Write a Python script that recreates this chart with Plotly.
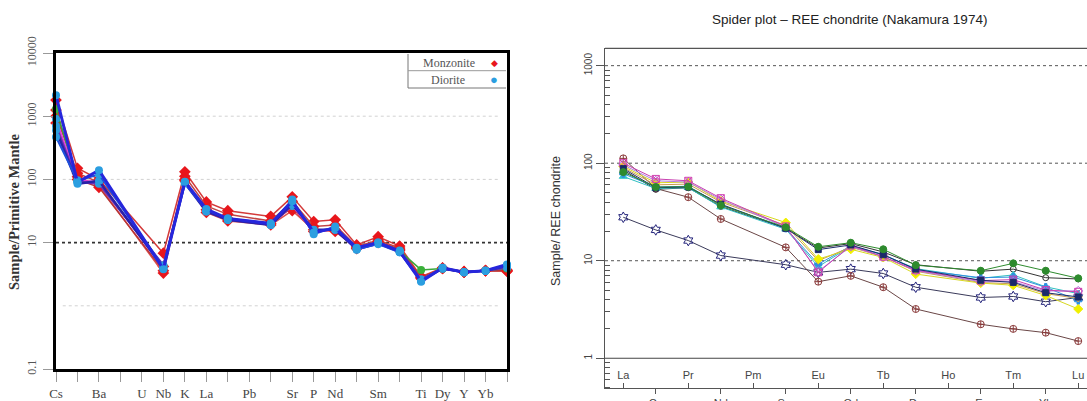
import plotly.graph_objects as go

W, H = 1087, 401
N = None

# ---------------- Left panel: primitive-mantle normalised spider diagram
PM_ELEMENTS = ["Cs", "Rb", "Ba", "Th", "U", "Nb", "K", "La", "Ce", "Pb", "Pr",
               "Sr", "P", "Nd", "Zr", "Sm", "Eu", "Ti", "Dy", "Y", "Yb", "Lu"]
PM_TICK_LABELS = ["Cs", "", "Ba", "", "U", "Nb", "K", "La", "", "Pb", "",
                  "Sr", "P", "Nd", "", "Sm", "", "Ti", "Dy", "Y", "Yb", ""]

MONZ_1 = [1800, 150, 100, N, N, 6.8, 132, 44, 32, N, 26, 53, 21.5, 23, 9.2, 12.4, 8.8, 2.9, 4.0, 3.5, 3.6, 3.6]
MONZ_2 = [1000, 125, 90, N, N, 4.2, 112, 38, 28, N, 22, 45, 18, 19, 8.6, 11.0, 8.2, 2.7, 3.9, 3.4, 3.6, 3.5]
MONZ_3 = [780, 110, 80, N, N, 3.3, 100, 30, 22, N, 19, 32, 16, 15, 8.2, 10.0, 7.5, 2.8, 3.9, 3.4, 3.6, 3.6]
MONZ_4 = [1250, 100, 75, N, N, 3.6, 95, 33, 24, N, 20, 36, 15, 16, 8.0, 10.5, 7.8, 2.8, 3.9, 3.4, 3.6, 3.7]

DIOR_1 = [2150, 90, 140, N, N, 3.8, 92, 34, 24, N, 20, 45, 14.5, 17, 8.3, 10.0, 7.3, 2.4, 4.0, 3.4, 3.6, 4.5]
DIOR_2 = [600, 85, 95, N, N, 4.0, 88, 31, 23, N, 19, 40, 16, 16, 7.9, 9.7, 7.2, 2.5, 3.9, 3.4, 3.6, 4.3]
DIOR_3 = [700, 92, 85, N, N, 4.4, 90, 32, 23, N, 20, 42, 15, 16.5, 8.0, 10.0, 7.5, 2.6, 3.9, 3.4, 3.6, 4.0]
DIOR_4 = [470, 95, 120, N, N, 4.1, 86, 33, 24, N, 20, 48, 13.5, 18, 7.8, 9.5, 7.0, 2.5, 4.0, 3.4, 3.6, 4.4]
DIOR_5 = [900, 97, 92, N, N, 3.9, 90, 31, 23, N, 19, 38, 15, 16, 7.7, 9.6, 7.1, 2.6, 3.9, 3.4, 3.6, 4.2]
DIOR_6 = [1300, 95, 90, N, N, 4.3, 89, 32, 23, N, 19.5, 41, 15.5, 16.5, 8.1, 9.9, 7.4, 3.7, 3.9, 3.4, 3.6, 3.9]

PM_TICKS = [0.1, 10, 100, 1000, 10000]
PM_TICK_TEXT = ["0.1", "10", "100", "1000", "10000"]

# ---------------- Right panel: REE chondrite normalised
REE = ["La", "Ce", "Pr", "Nd", "Pm", "Sm", "Eu", "Gd", "Tb", "Dy", "Ho", "Er", "Tm", "Yb", "Lu"]

REE_STAR = [27.9, 20.7, 16.1, 11.3, N, 9.1, 7.6, 8.2, 7.4, 5.35, N, 4.2, 4.3, 3.8, 4.2]
REE_BROWN = [112, 55, 44.8, 26.8, N, 13.7, 6.1, 7.0, 5.35, 3.2, N, 2.23, 2.0, 1.83, 1.5]
REE_GREEN = [81, 57, 57.5, 37, N, 22, 13.9, 15.3, 13.1, 9.0, N, 7.9, 9.4, 7.9, 6.6]
REE_GREY = [85, 54, 56, 36, N, 21.5, 13.5, 15, 12.3, 9.1, N, 7.8, 8.2, 6.7, 6.5]
REE_CYAN = [73, 55, 56, 35.5, N, 21, 8.7, 14, 11.5, 8.3, N, 6.6, 7.15, 5.4, 4.6]
REE_PINK = [100, 69, 66, 43.8, N, 22.5, 7.6, 14.3, 11, 8.0, N, 6.25, 6.4, 5.0, 4.8]
REE_VIOLET = [96, 66, 64, 42.5, N, 22, 7.8, 14, 11, 7.9, N, 6.1, 6.1, 4.9, 4.9]
REE_YELLOW = [93, 63, 64, 41, N, 24.6, 10.4, 13.1, 10.8, 7.3, N, 5.9, 5.6, 4.4, 3.2]
REE_ORANGE = [90, 60, 61, 40, N, 23, 10, 13.8, 11, 7.8, N, 5.97, 5.8, 4.6, 4.1]
REE_NAVY = [88, 56, 57, 38, N, 21.5, 13.0, 14.5, 11.5, 8.2, N, 6.3, 6.0, 4.7, 4.25]
REE_BLUE = [78, 57, 58, 37.5, N, 21.5, 9.2, 14.2, 11.6, 8.1, N, 6.7, 6.8, 5.35, 3.9]

REE_TICKS = [1, 10, 100, 1000]
REE_MINOR = [0.5, 0.6, 0.7, 0.8, 0.9, 2, 3, 4, 5, 6, 7, 8, 9,
             20, 30, 40, 50, 60, 70, 80, 90, 200, 300, 400, 500, 600, 700, 800, 900]

SERIF = "Liberation Serif, Times New Roman, serif"
SANS = "Liberation Sans, Arial, sans-serif"


def px(x):
    return x / W


def py(y):
    return (H - y) / H


fig = go.Figure()

pm_x = list(range(len(PM_ELEMENTS)))

monz_styles = [
    (MONZ_1, "#d43a3a", 1.5),
    (MONZ_2, "#c24545", 1.5),
    (MONZ_3, "#dd4f4f", 1.5),
    (MONZ_4, "#b83535", 1.5),
]
dior_styles = [
    (DIOR_6, "#3aa83a", 1.5, "#3ab03a"),
    (DIOR_5, "#e040e0", 1.6, "#2b9ee0"),
    (DIOR_3, "#6a30b8", 2.2, "#2b9ee0"),
    (DIOR_2, "#2a22a8", 2.5, "#2b9ee0"),
    (DIOR_4, "#1e50dc", 2.0, "#2b9ee0"),
    (DIOR_1, "#2626dc", 3.0, "#2b9ee0"),
]

for vals, col, w in monz_styles:
    fig.add_trace(go.Scatter(
        x=pm_x, y=vals, mode="lines+markers", connectgaps=True, cliponaxis=False,
        line=dict(color=col, width=w),
        marker=dict(symbol="diamond", size=9, color="#e8161c"),
        xaxis="x", yaxis="y", showlegend=False))

for vals, col, w, mcol in dior_styles:
    fig.add_trace(go.Scatter(
        x=pm_x, y=vals, mode="lines+markers", connectgaps=True, cliponaxis=False,
        line=dict(color=col, width=w),
        marker=dict(symbol="circle", size=8, color=mcol),
        xaxis="x", yaxis="y", showlegend=False))

ree_x = list(range(len(REE)))
ree_styles = [
    (REE_STAR, "#3a3a5a", "hexagram-open", "#23237a", 8),
    (REE_BROWN, "#6a4646", "circle-cross-open", "#8a3a3a", 7),
    (REE_GREY, "#333333", "circle-open", "#333333", 6),
    (REE_CYAN, "#30c0c0", "triangle-up", "#30c8c8", 7),
    (REE_BLUE, "#3090e0", "cross", "#3090e0", 6),
    (REE_ORANGE, "#c89a50", "triangle-down-open", "#d8a050", 7),
    (REE_YELLOW, "#d8d820", "diamond", "#f0f000", 7),
    (REE_VIOLET, "#b080e0", "diamond-open", "#b070e0", 7),
    (REE_PINK, "#c840b0", "square-x-open", "#d040b0", 7),
    (REE_NAVY, "#1a2a6a", "square", "#1a2a6a", 6),
    (REE_GREEN, "#2e8b2e", "circle-cross", "#2e8b2e", 7),
]
for vals, lcol, sym, mcol, ms in ree_styles:
    fig.add_trace(go.Scatter(
        x=ree_x, y=vals, mode="lines+markers", connectgaps=True, cliponaxis=False,
        line=dict(color=lcol, width=1),
        marker=dict(symbol=sym, size=ms, color=mcol, line=dict(color=mcol, width=1)),
        xaxis="x2", yaxis="y2", showlegend=False))

# empty trace so the second (label) x axis of the REE panel gets drawn
fig.add_trace(go.Scatter(x=[], y=[], mode="markers", xaxis="x3", yaxis="y2",
                         showlegend=False, hoverinfo="skip"))

shapes = []
# left gridlines
for gv in [1000, 100, 1]:
    shapes.append(dict(type="line", xref="x domain", yref="y", x0=0.015, x1=0.985,
                       y0=gv, y1=gv, line=dict(color="#d2d2d2", width=1, dash="dot"),
                       layer="below"))
shapes.append(dict(type="line", xref="x domain", yref="y", x0=0.0, x1=1.0, y0=10, y1=10,
                   line=dict(color="#333333", width=1.6, dash="dot"), layer="below"))
# left legend box
shapes.append(dict(type="line", xref="paper", yref="paper", x0=px(408), x1=px(408),
                   y0=py(54), y1=py(88), line=dict(color="#777", width=1)))
shapes.append(dict(type="line", xref="paper", yref="paper", x0=px(408), x1=px(506),
                   y0=py(88), y1=py(88), line=dict(color="#777", width=1)))
shapes.append(dict(type="line", xref="paper", yref="paper", x0=px(408), x1=px(506),
                   y0=py(70.7), y1=py(70.7), line=dict(color="#999", width=1)))
# right gridlines
for gv in [1000, 100, 10]:
    shapes.append(dict(type="line", xref="x2 domain", yref="y2", x0=0, x1=1, y0=gv, y1=gv,
                       line=dict(color="#555555", width=1, dash="dot"), layer="below"))
shapes.append(dict(type="line", xref="x2 domain", yref="y2", x0=0, x1=1, y0=1, y1=1,
                   line=dict(color="#444444", width=1.2), layer="below"))
# right top border
shapes.append(dict(type="line", xref="x2 domain", yref="y2 domain", x0=0, x1=1, y0=1, y1=1,
                   line=dict(color="#555555", width=1.2)))


def note(text, x, y, font, angle=0):
    return dict(text=text, x=px(x), y=py(y), xref="paper", yref="paper",
                xanchor="center", yanchor="middle", textangle=angle,
                showarrow=False, font=font)


annotations = [
    note("<b>Sample/Primitive Mantle</b>", 14, 212,
         dict(family=SERIF, size=14.5, color="#333"), -90),
    note("Monzonite", 449, 62.5, dict(family=SERIF, size=12, color="#555")),
    note("Diorite", 448, 79.5, dict(family=SERIF, size=12, color="#555")),
    note("◆", 494, 62, dict(size=9, color="#e8161c")),
    note("●", 494, 79, dict(size=13, color="#2b9ee0")),
    note("Spider plot \u2013 REE chondrite (Nakamura 1974)", 849, 19.5,
         dict(family=SANS, size=13.5, color="#222")),
    note("Sample/ REE chondrite", 556, 221, dict(family=SANS, size=12.5, color="#333"), -90),
]

fig.update_layout(
    width=W, height=H,
    margin=dict(l=0, r=0, t=0, b=0, pad=0, autoexpand=False),
    paper_bgcolor="white", plot_bgcolor="white",
    shapes=shapes, annotations=annotations,
    xaxis=dict(
        domain=[px(56), px(507)], range=[0, len(PM_ELEMENTS) - 1], anchor="y",
        automargin=False,
        tickmode="array", tickvals=pm_x, ticktext=PM_TICK_LABELS,
        ticks="outside", ticklen=10, tickcolor="#999", tickwidth=1,
        tickfont=dict(family=SERIF, size=13, color="#444"), ticklabelstandoff=1,
        showline=True, mirror=True, linecolor="black", linewidth=2.5,
        showgrid=False, zeroline=False),
    yaxis=dict(
        domain=[py(369), py(53)], type="log", range=[-1, 4], anchor="x",
        automargin=False,
        tickmode="array", tickvals=PM_TICKS, ticktext=PM_TICK_TEXT, tickangle=-90,
        ticks="outside", ticklen=10, tickcolor="#999",
        tickfont=dict(family=SERIF, size=12, color="#555"), ticklabelstandoff=2,
        showline=True, mirror=True, linecolor="black", linewidth=2.5,
        showgrid=False, zeroline=False),
    xaxis2=dict(
        domain=[px(605), 1.0], range=[-0.563, 14.27], anchor="y2",
        automargin=False,
        tickmode="array", tickvals=ree_x[1::2], ticktext=REE[1::2],
        ticks="outside", ticklen=5, tickcolor="#555", tickwidth=1,
        tickfont=dict(family=SANS, size=11, color="#444"),
        showline=True, linecolor="#555", linewidth=1.2,
        showgrid=False, zeroline=False),
    xaxis3=dict(
        overlaying="x2", anchor="free", position=py(388), side="top",
        range=[-0.563, 14.27], automargin=False,
        tickmode="array", tickvals=ree_x[0::2], ticktext=REE[0::2],
        ticks="outside", ticklen=5, tickcolor="#555", tickwidth=1,
        tickfont=dict(family=SANS, size=11, color="#444"),
        showline=False, showgrid=False, zeroline=False),
    yaxis2=dict(
        domain=[py(388), py(48.3)], type="log", range=[-0.305, 3.178], anchor="x2",
        automargin=False,
        tickmode="array", tickvals=REE_TICKS, ticktext=[str(v) for v in REE_TICKS],
        tickangle=-90, ticks="outside", ticklen=8, tickcolor="#555",
        tickfont=dict(family=SANS, size=10, color="#444"),
        minor=dict(tickmode="array", tickvals=REE_MINOR, ticks="inside", ticklen=5,
                   tickcolor="#555", showgrid=False),
        showline=True, linecolor="#555", linewidth=1.2,
        showgrid=False, zeroline=False),
)

fig.write_html("out.html", config={"displayModeBar": False},
               post_script="document.body.style.margin='0px';document.body.style.overflow='hidden';")
